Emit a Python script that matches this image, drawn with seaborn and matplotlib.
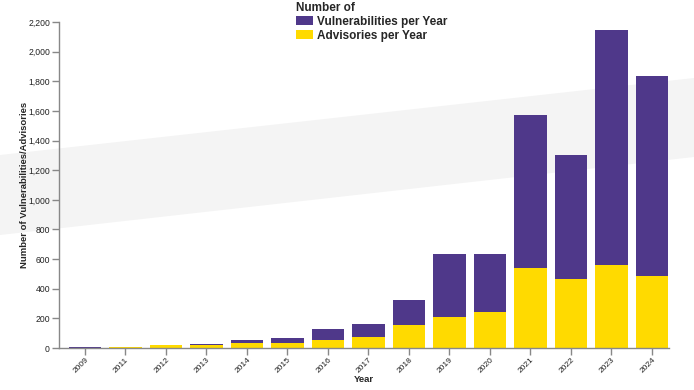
import pandas as pd
import matplotlib.pyplot as plt
import seaborn as sns
from matplotlib.patches import Polygon
from matplotlib.ticker import FuncFormatter

years = ['2009', '2011', '2012', '2013', '2014', '2015', '2016', '2017',
         '2018', '2019', '2020', '2021', '2022', '2023', '2024']
vulnerabilities = [8, 5, 10, 24, 56, 70, 130, 163, 324, 634, 634, 1572, 1302, 2146, 1835]
advisories = [3, 7, 17, 17, 31, 36, 56, 76, 155, 207, 245, 540, 466, 558, 486]

series_names = ['Vulnerabilities per Year', 'Advisories per Year']
colors = ['#4F388A', '#FFDA00']

df = pd.concat([
    pd.DataFrame({'Year': years, 'Count': vulnerabilities, 'Series': series_names[0]}),
    pd.DataFrame({'Year': years, 'Count': advisories, 'Series': series_names[1]}),
])

sns.set_style('white')
plt.rcParams['font.family'] = ['Liberation Sans', 'DejaVu Sans']

fig = plt.figure(figsize=(6.94, 3.9), dpi=100)
ax = fig.add_axes([59 / 694, 42 / 390, 610 / 694, 326 / 390])
ax.set_facecolor('none')

# light grey slanted band behind the chart
W, H = 694, 390
band = Polygon([(0, 1 - 155 / H), (1, 1 - 78 / H), (1, 1 - 157 / H), (0, 1 - 235 / H)],
               closed=True, transform=fig.transFigure, facecolor='#F4F4F4',
               edgecolor='none', zorder=-10)
fig.patches.append(band)

sns.barplot(data=df, x='Year', y='Count', hue='Series', hue_order=series_names,
            order=years, palette=colors, dodge=False, width=0.81,
            saturation=1, linewidth=0, ax=ax)

ax.set_xlim(-0.64, 14.42)
ax.set_ylim(0, 2200)
ax.set_yticks(range(0, 2201, 200))
ax.yaxis.set_major_formatter(FuncFormatter(lambda v, p: f'{int(v):,}'))

for s in ['top', 'right']:
    ax.spines[s].set_visible(False)
for s in ['left', 'bottom']:
    ax.spines[s].set_color('#888888')
    ax.spines[s].set_linewidth(1)

ax.tick_params(axis='both', length=5, width=1, color='#888888',
               labelcolor='#222222')
ax.tick_params(axis='y', left=True, labelsize=6.2, pad=1.5)
ax.tick_params(axis='x', bottom=True, labelsize=6, pad=1)
plt.setp(ax.get_xticklabels(), rotation=45, ha='right', rotation_mode='anchor')

ax.set_xlabel('Year', fontsize=6.8, fontweight='bold')
ax.set_ylabel('Number of Vulnerabilities/Advisories', fontsize=6.8, fontweight='bold')
ax.yaxis.set_label_coords(-0.049, 0.5)
ax.xaxis.set_label_coords(0.5, -0.083)

handles, labels = ax.get_legend_handles_labels()
leg = ax.legend(handles, labels, title='Number of', loc='upper left',
                bbox_to_anchor=(296 / W, 1 - 2 / H), bbox_transform=fig.transFigure,
                frameon=False, prop={'weight': 'bold', 'size': 8.5},
                handlelength=1.4, handleheight=0.8, handletextpad=0.35,
                labelspacing=0.15, borderaxespad=0, borderpad=0)
leg.get_title().set_fontweight('bold')
leg.get_title().set_fontsize(8.5)
leg._legend_box.align = 'left'

fig.savefig('out.png', dpi=100)
